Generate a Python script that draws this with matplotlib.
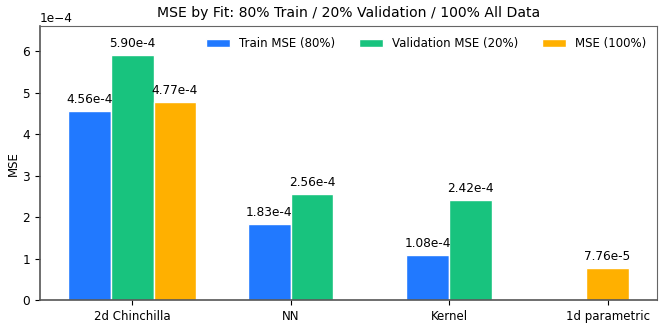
import numpy as np
import matplotlib
matplotlib.use("Agg")
import matplotlib.pyplot as plt

categories = ["2d Chinchilla", "NN", "Kernel", "1d parametric"]
series_names = ["Train MSE (80%)", "Validation MSE (20%)", "MSE (100%)"]
train_mse = [4.56e-4, 1.83e-4, 1.08e-4, None]
val_mse = [5.90e-4, 2.56e-4, 2.42e-4, None]
all_mse = [4.77e-4, None, None, 7.76e-5]
colors = ["#2179FF", "#18C37E", "#FFB000"]


def fmt(v):
    m, e = f"{v:.2e}".split("e")
    return f"{m}e{int(e)}"


fig, ax = plt.subplots(figsize=(6.65, 3.29), dpi=100)
width = 0.27
series = [train_mse, val_mse, all_mse]
drawn = set()
for i, cat in enumerate(categories):
    present = [k for k in range(3) if series[k][i] is not None]
    n = len(present)
    for j, k in enumerate(present):
        x = i + (j - (n - 1) / 2) * width
        v = series[k][i]
        label = series_names[k] if k not in drawn else None
        drawn.add(k)
        ax.bar(x, v, width, color=colors[k], edgecolor="white", linewidth=1, label=label)
        ax.text(x, v + 0.12e-4, fmt(v), ha="center", va="bottom", fontsize=8.7)

ax.set_xticks(range(len(categories)))
ax.set_xticklabels(categories, fontsize=8.5)
ax.set_ylim(0, 6.6e-4)
ax.set_ylabel("MSE", fontsize=8.5, labelpad=2)
ax.tick_params(axis="y", labelsize=8.7)
ax.ticklabel_format(axis="y", style="sci", scilimits=(0, 0))
ax.yaxis.get_offset_text().set_fontsize(8.7)
ax.set_title("MSE by Fit: 80% Train / 20% Validation / 100% All Data", fontsize=10.1, pad=7)

for s in ["left", "bottom"]:
    ax.spines[s].set_color("#555555")
    ax.spines[s].set_linewidth(1.2)
for s in ["top", "right"]:
    ax.spines[s].set_color("#666666")
    ax.spines[s].set_linewidth(0.8)

handles, labels = ax.get_legend_handles_labels()
order = [labels.index(n) for n in series_names]
ax.legend([handles[o] for o in order], [labels[o] for o in order],
          loc="upper right", ncol=3, frameon=False, fontsize=8.5)

fig.subplots_adjust(left=0.06, right=0.988, top=0.92, bottom=0.088)
fig.savefig("out.png")
